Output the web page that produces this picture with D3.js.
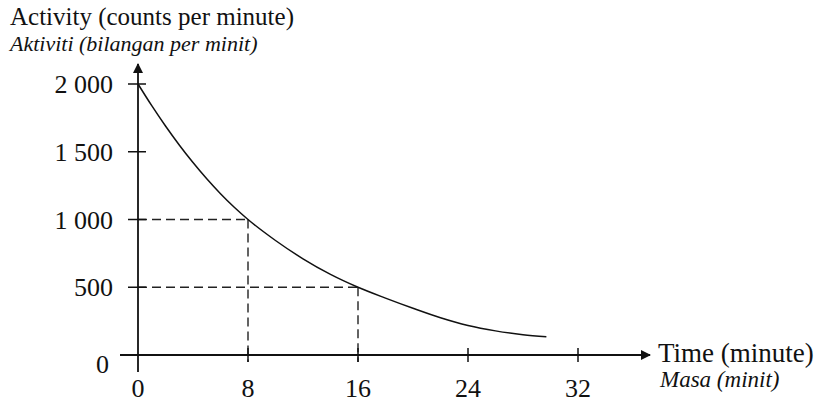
<!DOCTYPE html>
<html>
<head>
<meta charset="utf-8">
<script src="https://cdn.jsdelivr.net/npm/d3@7"></script>
<style>
  body { margin: 0; background: #fff; }
  text { font-family: "Liberation Serif", "Times New Roman", serif; fill: #111; }
</style>
</head>
<body>
<svg width="818" height="402"></svg>
<script>
// data
var times = [0, 1, 2, 3, 4, 5, 6, 7, 8, 10, 12, 14, 16, 18, 20, 22, 24, 26, 28, 29.7];
var activity = [2000, 1840, 1690, 1550, 1420, 1300, 1190, 1090, 1000, 845, 710, 595, 500, 420, 345, 275, 218, 178, 150, 135];
var xTicks = [0, 8, 16, 24, 32];
var yTicks = [0, 500, 1000, 1500, 2000];
var yTickLabels = ["0", "500", "1 000", "1 500", "2 000"];
var guides = [[8, 1000], [16, 500]];

var svg = d3.select("svg");

var x = d3.scaleLinear().domain([0, 32]).range([138, 578]);
var y = d3.scaleLinear().domain([0, 2000]).range([355, 84]);

// arrow marker
svg.append("defs").append("marker")
    .attr("id", "arr")
    .attr("viewBox", "0 0 10 10")
    .attr("refX", 9).attr("refY", 5)
    .attr("markerWidth", 10).attr("markerHeight", 10)
    .attr("markerUnits", "userSpaceOnUse")
    .attr("orient", "auto")
  .append("path")
    .attr("d", "M0,0 L10,5 L0,10 Z")
    .attr("fill", "#111");

// dashed guide lines
var g = svg.append("g").attr("stroke", "#222").attr("stroke-width", 1.4)
    .attr("stroke-dasharray", "9,5").attr("fill", "none");
guides.forEach(function(p) {
  g.append("line").attr("x1", x(0)).attr("y1", y(p[1])).attr("x2", x(p[0])).attr("y2", y(p[1]));
  g.append("line").attr("x1", x(p[0])).attr("y1", y(p[1])).attr("x2", x(p[0])).attr("y2", y(0) + 7);
});

// axes
svg.append("line")
    .attr("x1", 120).attr("y1", y(0)).attr("x2", 650).attr("y2", y(0))
    .attr("stroke", "#111").attr("stroke-width", 1.8).attr("marker-end", "url(#arr)");
svg.append("line")
    .attr("x1", x(0)).attr("y1", 372).attr("x2", x(0)).attr("y2", 64)
    .attr("stroke", "#111").attr("stroke-width", 1.8).attr("marker-end", "url(#arr)");

// ticks
svg.append("g").selectAll("line").data(xTicks.slice(1)).enter().append("line")
    .attr("x1", function(d) { return x(d); }).attr("x2", function(d) { return x(d); })
    .attr("y1", y(0) - 7).attr("y2", y(0) + 7)
    .attr("stroke", "#111").attr("stroke-width", 1.5);
svg.append("g").selectAll("line").data(yTicks.slice(1)).enter().append("line")
    .attr("x1", x(0) - 10).attr("x2", x(0) + 8)
    .attr("y1", function(d) { return y(d); }).attr("y2", function(d) { return y(d); })
    .attr("stroke", "#111").attr("stroke-width", 1.5);

// tick labels
svg.append("g").selectAll("text").data(xTicks).enter().append("text")
    .attr("x", function(d) { return x(d); }).attr("y", 397)
    .attr("text-anchor", "middle").attr("font-size", 26)
    .text(function(d) { return d; });
svg.append("g").selectAll("text").data(yTicks).enter().append("text")
    .attr("x", function(d) { return d === 0 ? 109 : 113; })
    .attr("y", function(d) { return y(d) + (d === 0 ? 18 : 9); })
    .attr("text-anchor", "end").attr("font-size", 26)
    .text(function(d, i) { return yTickLabels[i]; });

// curve
var line = d3.line()
    .x(function(d, i) { return x(times[i]); })
    .y(function(d) { return y(d); })
    .curve(d3.curveMonotoneX);
svg.append("path").datum(activity)
    .attr("d", line).attr("fill", "none")
    .attr("stroke", "#111").attr("stroke-width", 1.5);

// axis titles
svg.append("text").attr("x", 10).attr("y", 25).attr("font-size", 25)
    .text("Activity (counts per minute)");
svg.append("text").attr("x", 10).attr("y", 51).attr("font-size", 22).attr("font-style", "italic")
    .text("Aktiviti (bilangan per minit)");
svg.append("text").attr("x", 658).attr("y", 362).attr("font-size", 27)
    .text("Time (minute)");
svg.append("text").attr("x", 660).attr("y", 387).attr("font-size", 23).attr("font-style", "italic")
    .text("Masa (minit)");
</script>
</body>
</html>
